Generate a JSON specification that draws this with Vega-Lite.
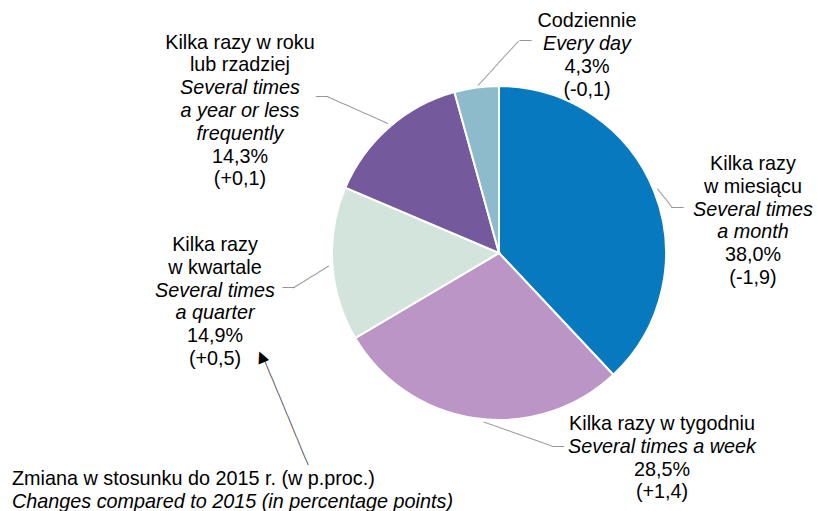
{
  "$schema": "https://vega.github.io/schema/vega-lite/v6.json",
  "width": 636,
  "height": 506,
  "autosize": "none",
  "padding": {"left": 181, "top": 0, "right": 0, "bottom": 5},
  "background": "white",
  "config": {"view": {"stroke": null}, "text": {"font": "Liberation Sans", "fontSize": 19.8, "lineHeight": 22.8, "align": "center", "baseline": "middle", "color": "#000000"}},
  "data": {"values": [
    {"cat": "monthly", "value": 38.0, "order": 1, "a": ["Kilka razy", "w miesiącu"], "b": ["Several times", "a month"], "c": ["38,0%", "(-1,9)"]},
    {"cat": "weekly", "value": 28.5, "order": 2, "a": "Kilka razy w tygodniu", "b": "Several times a week", "c": ["28,5%", "(+1,4)"]},
    {"cat": "quarterly", "value": 14.9, "order": 3, "a": ["Kilka razy", "w kwartale"], "b": ["Several times", "a quarter"], "c": ["14,9%", "(+0,5)"], "note": "Zmiana w stosunku do 2015 r. (w p.proc.)", "note_en": "Changes compared to 2015 (in percentage points)"},
    {"cat": "yearly", "value": 14.3, "order": 4, "a": ["Kilka razy w roku", "lub rzadziej"], "b": ["Several times", "a year or less", "frequently"], "c": ["14,3%", "(+0,1)"]},
    {"cat": "daily", "value": 4.3, "order": 5, "a": "Codziennie", "b": "Every day", "c": ["4,3%", "(-0,1)"]}
  ]},
  "encoding": {
    "theta": {"field": "value", "type": "quantitative", "stack": true},
    "order": {"field": "order", "type": "quantitative"},
    "detail": {"field": "cat", "type": "nominal"}
  },
  "layer": [
    {"mark": {"type": "arc", "outerRadius": 167, "stroke": "white", "strokeWidth": 2},
     "encoding": {"color": {"field": "cat", "type": "nominal", "legend": null,
       "scale": {"domain": ["monthly", "weekly", "quarterly", "yearly", "daily"], "range": ["#0779BF", "#BB95C6", "#D3E4DD", "#745A9C", "#8DBBCB"]}}}},

    {"mark": {"type": "text", "radius": 248, "dx": 23.4, "dy": 2.3},
     "encoding": {"text": {"condition": {"test": "datum.cat === 'monthly'", "field": "a", "type": "nominal"}, "value": ""}}},
    {"mark": {"type": "text", "radius": 248, "dx": 23.4, "dy": 47.9, "fontStyle": "italic"},
     "encoding": {"text": {"condition": {"test": "datum.cat === 'monthly'", "field": "b", "type": "nominal"}, "value": ""}}},
    {"mark": {"type": "text", "radius": 248, "dx": 23.4, "dy": 93.5},
     "encoding": {"text": {"condition": {"test": "datum.cat === 'monthly'", "field": "c", "type": "nominal"}, "value": ""}}},

    {"mark": {"type": "text", "radius": 179.5, "dx": 188.3, "dy": -6.7},
     "encoding": {"text": {"condition": {"test": "datum.cat === 'weekly'", "field": "a", "type": "nominal"}, "value": ""}}},
    {"mark": {"type": "text", "radius": 179.5, "dx": 188.3, "dy": 16.1, "fontStyle": "italic"},
     "encoding": {"text": {"condition": {"test": "datum.cat === 'weekly'", "field": "b", "type": "nominal"}, "value": ""}}},
    {"mark": {"type": "text", "radius": 179.5, "dx": 188.3, "dy": 38.9},
     "encoding": {"text": {"condition": {"test": "datum.cat === 'weekly'", "field": "c", "type": "nominal"}, "value": ""}}},

    {"mark": {"type": "text", "radius": 286.5, "dx": 1.9, "dy": -26.9},
     "encoding": {"text": {"condition": {"test": "datum.cat === 'quarterly'", "field": "a", "type": "nominal"}, "value": ""}}},
    {"mark": {"type": "text", "radius": 286.5, "dx": 1.9, "dy": 18.7, "fontStyle": "italic"},
     "encoding": {"text": {"condition": {"test": "datum.cat === 'quarterly'", "field": "b", "type": "nominal"}, "value": ""}}},
    {"mark": {"type": "text", "radius": 286.5, "dx": 1.9, "dy": 64.3},
     "encoding": {"text": {"condition": {"test": "datum.cat === 'quarterly'", "field": "c", "type": "nominal"}, "value": ""}}},

    {"mark": {"type": "text", "radius": 278.2, "dx": -75.7, "dy": -1.2},
     "encoding": {"text": {"condition": {"test": "datum.cat === 'yearly'", "field": "a", "type": "nominal"}, "value": ""}}},
    {"mark": {"type": "text", "radius": 278.2, "dx": -75.7, "dy": 44.4, "fontStyle": "italic"},
     "encoding": {"text": {"condition": {"test": "datum.cat === 'yearly'", "field": "b", "type": "nominal"}, "value": ""}}},
    {"mark": {"type": "text", "radius": 278.2, "dx": -75.7, "dy": 112.8},
     "encoding": {"text": {"condition": {"test": "datum.cat === 'yearly'", "field": "c", "type": "nominal"}, "value": ""}}},

    {"mark": {"type": "text", "radius": 184.8, "dx": 112.9, "dy": -48.6},
     "encoding": {"text": {"condition": {"test": "datum.cat === 'daily'", "field": "a", "type": "nominal"}, "value": ""}}},
    {"mark": {"type": "text", "radius": 184.8, "dx": 112.9, "dy": -25.8, "fontStyle": "italic"},
     "encoding": {"text": {"condition": {"test": "datum.cat === 'daily'", "field": "b", "type": "nominal"}, "value": ""}}},
    {"mark": {"type": "text", "radius": 184.8, "dx": 112.9, "dy": -3.0},
     "encoding": {"text": {"condition": {"test": "datum.cat === 'daily'", "field": "c", "type": "nominal"}, "value": ""}}},

    {"mark": {"type": "text", "radius": 286.5, "dx": -201.1, "dy": 207.4, "align": "left"},
     "encoding": {"text": {"condition": {"test": "datum.cat === 'quarterly'", "field": "note", "type": "nominal"}, "value": ""}}},
    {"mark": {"type": "text", "radius": 286.5, "dx": -201.1, "dy": 230.4, "align": "left", "fontStyle": "italic"},
     "encoding": {"text": {"condition": {"test": "datum.cat === 'quarterly'", "field": "note_en", "type": "nominal"}, "value": ""}}},

    {"mark": {"type": "text", "radius": 187.8, "angle": 312.3, "dx": 19.2, "dy": 16.1, "font": "DejaVu Sans Mono", "fontSize": 10, "color": "#8c8c8c"},
     "encoding": {"text": {"condition": {"test": "datum.cat === 'daily'", "value": "──────────"}, "value": ""}}},
    {"mark": {"type": "text", "radius": 206.5, "dx": 54.3, "dy": -7.4, "font": "DejaVu Sans Mono", "fontSize": 10, "color": "#8c8c8c"},
     "encoding": {"text": {"condition": {"test": "datum.cat === 'daily'", "value": "──"}, "value": ""}}},

    {"mark": {"type": "text", "radius": 200.4, "angle": 23.9, "dx": -5.3, "dy": 11.3, "font": "DejaVu Sans Mono", "fontSize": 10, "color": "#8c8c8c"},
     "encoding": {"text": {"condition": {"test": "datum.cat === 'yearly'", "value": "───────────"}, "value": ""}}},
    {"mark": {"type": "text", "radius": 233.9, "dx": -22.9, "dy": 19.9, "font": "DejaVu Sans Mono", "fontSize": 10, "color": "#8c8c8c"},
     "encoding": {"text": {"condition": {"test": "datum.cat === 'yearly'", "value": "──"}, "value": ""}}},

    {"mark": {"type": "text", "radius": 174.0, "angle": 51.7, "dx": 9.8, "dy": 3.0, "font": "DejaVu Sans Mono", "fontSize": 10, "color": "#8c8c8c"},
     "encoding": {"text": {"condition": {"test": "datum.cat === 'monthly'", "value": "────"}, "value": ""}}},
    {"mark": {"type": "text", "radius": 182.6, "dx": 8.7, "dy": 22.2, "font": "DejaVu Sans Mono", "fontSize": 10, "color": "#8c8c8c"},
     "encoding": {"text": {"condition": {"test": "datum.cat === 'monthly'", "value": "──"}, "value": ""}}},

    {"mark": {"type": "text", "radius": 177.1, "angle": 19.4, "dx": 43.1, "dy": -8.7, "font": "DejaVu Sans Mono", "fontSize": 10, "color": "#8c8c8c"},
     "encoding": {"text": {"condition": {"test": "datum.cat === 'weekly'", "value": "────────────"}, "value": ""}}},
    {"mark": {"type": "text", "radius": 183.8, "dx": 84.9, "dy": 12.0, "font": "DejaVu Sans Mono", "fontSize": 10, "color": "#8c8c8c"},
     "encoding": {"text": {"condition": {"test": "datum.cat === 'weekly'", "value": "──"}, "value": ""}}},

    {"mark": {"type": "text", "radius": 189.2, "angle": 328.3, "dx": -5.6, "dy": 10.6, "font": "DejaVu Sans Mono", "fontSize": 10, "color": "#8c8c8c"},
     "encoding": {"text": {"condition": {"test": "datum.cat === 'quarterly'", "value": "───────"}, "value": ""}}},
    {"mark": {"type": "text", "radius": 212.3, "dx": 1.3, "dy": 21.0, "font": "DejaVu Sans Mono", "fontSize": 10, "color": "#8c8c8c"},
     "encoding": {"text": {"condition": {"test": "datum.cat === 'quarterly'", "value": "──"}, "value": ""}}},

    {"mark": {"type": "text", "radius": 223.3, "angle": 67.4, "dx": 137.3, "dy": 46.8, "font": "DejaVu Sans Mono", "fontSize": 10, "color": "#3a3a3a"},
     "encoding": {"text": {"condition": {"test": "datum.cat === 'quarterly'", "value": "───────────────────"}, "value": ""}}},
    {"mark": {"type": "text", "radius": 244.2, "angle": 336.9, "dx": -28.8, "dy": 82.1, "font": "DejaVu Sans", "fontSize": 15},
     "encoding": {"text": {"condition": {"test": "datum.cat === 'quarterly'", "value": "▲"}, "value": ""}}}
  ]
}
